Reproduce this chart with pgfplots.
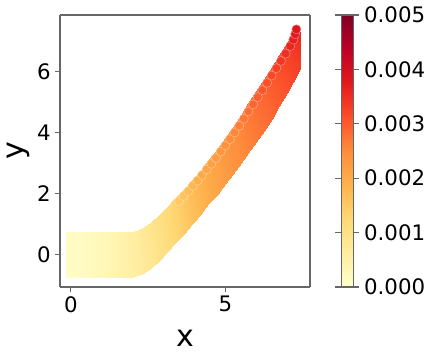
\documentclass[border=0pt]{standalone}
\usepackage{fontspec}
\setmainfont{DejaVu Sans}
\usepackage{pgfplots}
\pgfplotsset{compat=1.18}

% YlOrRd colormap (matplotlib)
\pgfplotsset{
  colormap={ylorrd}{
    rgb255=(255,255,204) rgb255=(255,237,160) rgb255=(254,217,118)
    rgb255=(254,178,76)  rgb255=(253,141,60)  rgb255=(252,78,42)
    rgb255=(227,26,28)   rgb255=(189,0,38)    rgb255=(128,0,38)
  },
}
\newcommand{\tickfont}{\fontsize{16}{19}\selectfont}
\newcommand{\labfont}{\fontsize{22.5}{26}\selectfont}

\begin{document}
\begin{tikzpicture}
\path[use as bounding box] (-45pt,-52.5pt) rectangle (276.75pt,215.25pt);
\begin{axis}[
  at={(0,0)}, anchor=south west,
  view={0}{90},
  scale only axis, width=187.5pt, height=204pt,
  xmin=-0.35, xmax=7.74, ymin=-1.07, ymax=7.87,
  zmin=-1, zmax=1, ztick=\empty,
  xtick={0,5}, ytick={0,2,4,6},
  xtick pos=left, ytick pos=left,
  tick align=outside,
  major tick length=3.5pt,
  axis line style={black!60, line width=0.9pt},
  major tick style={black!60, line width=0.9pt},
  tick label style={font=\tickfont},
  /pgf/number format/assume math mode=true,
  xlabel={x}, ylabel={y},
  every axis x label/.style={at={(axis description cs:0.5,0)}, anchor=center,
    yshift=-38.25pt, font=\labfont},
  every axis y label/.style={at={(axis description cs:0,0.5)},
    xshift=-31.5pt, anchor=center, rotate=90, font=\labfont},
  colormap name=ylorrd,
  point meta min=0, point meta max=0.005,
  colorbar,
  colorbar style={
    at={(parent axis.north east)}, anchor=north west, xshift=15pt,
    width=9pt,
    ytick={0,0.001,0.002,0.003,0.004,0.005},
    scaled y ticks=false,
    tick align=outside,
    major tick length=4.5pt,
    axis line style={black!60, line width=0.9pt},
    major tick style={black!60, line width=0.9pt},
    yticklabel style={font=\tickfont,
      /pgf/number format/.cd, fixed, fixed zerofill, precision=3,
      assume math mode=true},
  },
]
% body of the point cloud: lower and upper edge
\addplot3[surf, shader=interp, mesh/rows=2, point meta=explicit]
  table[x=x, y=y, z=z, meta=c] {
x y z c
-0.15 -0.75 0 0.00010
0.50 -0.75 0 0.00016
1.00 -0.75 0 0.00026
1.50 -0.75 0 0.00040
2.00 -0.75 0 0.00056
2.30 -0.63 0 0.00068
2.60 -0.43 0 0.00082
2.84 -0.20 0 0.00096
3.10 0.08 0 0.00110
3.38 0.38 0 0.00127
3.65 0.68 0 0.00144
3.92 1.00 0 0.00161
4.20 1.33 0 0.00178
4.45 1.65 0 0.00193
4.75 2.00 0 0.00208
5.00 2.32 0 0.00222
5.25 2.65 0 0.00234
5.50 3.00 0 0.00245
5.75 3.35 0 0.00256
6.00 3.70 0 0.00266
6.25 4.07 0 0.00276
6.50 4.45 0 0.00286
6.75 4.87 0 0.00297
7.00 5.30 0 0.00308
7.20 5.68 0 0.00318
7.42 6.14 0 0.00330
7.44 6.60 0 0.00342
7.43 7.20 0 0.00358
-0.15 0.75 0 0.00010
0.50 0.75 0 0.00016
1.00 0.75 0 0.00026
1.50 0.75 0 0.00040
2.00 0.75 0 0.00060
2.30 0.88 0 0.00074
2.60 1.08 0 0.00090
2.84 1.30 0 0.00105
3.10 1.55 0 0.00121
3.38 1.84 0 0.00139
3.65 2.14 0 0.00157
3.92 2.45 0 0.00175
4.20 2.79 0 0.00192
4.45 3.10 0 0.00207
4.75 3.49 0 0.00223
5.00 3.83 0 0.00237
5.25 4.20 0 0.00250
5.50 4.58 0 0.00262
5.75 4.97 0 0.00273
6.00 5.36 0 0.00284
6.25 5.75 0 0.00295
6.50 6.15 0 0.00307
6.75 6.55 0 0.00320
7.00 6.96 0 0.00334
7.15 7.22 0 0.00345
7.25 7.40 0 0.00356
7.33 7.48 0 0.00368
7.40 7.42 0 0.00375
};
% outermost markers along the upper rim
\addplot3[scatter, only marks, mark=*, mark size=3.4pt, point meta=explicit,
  scatter/use mapped color={fill=mapped color, draw=mapped color!55!white,
    line width=0.35pt}]
  table[x=x, y=y, z=z, meta=c] {
x y z c
3.50 1.75 0 0.00150
3.65 1.92 0 0.00160
3.80 2.08 0 0.00170
3.95 2.26 0 0.00180
4.10 2.43 0 0.00190
4.25 2.61 0 0.00200
4.40 2.80 0 0.00208
4.55 2.98 0 0.00216
4.70 3.17 0 0.00224
4.85 3.38 0 0.00232
5.00 3.58 0 0.00240
5.15 3.79 0 0.00248
5.30 4.01 0 0.00256
5.45 4.23 0 0.00264
5.60 4.46 0 0.00272
5.75 4.70 0 0.00280
5.90 4.93 0 0.00288
6.05 5.17 0 0.00296
6.20 5.40 0 0.00304
6.35 5.64 0 0.00312
6.50 5.88 0 0.00320
6.65 6.12 0 0.00330
6.80 6.36 0 0.00340
6.95 6.60 0 0.00350
7.10 6.85 0 0.00360
7.20 7.06 0 0.00368
7.26 7.24 0 0.00375
7.30 7.40 0 0.00382
};
\end{axis}
\end{tikzpicture}
\end{document}
